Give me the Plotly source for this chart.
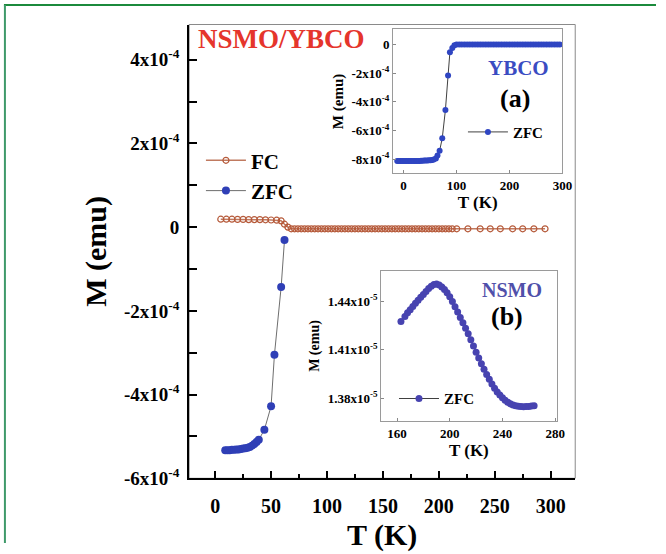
import plotly.graph_objects as go

W, H = 666, 554
SERIF = "Liberation Serif"

# ---------------- main panel: NSMO/YBCO bilayer ----------------
fc_T = [5, 10, 15, 20, 25, 30, 35, 40, 45, 50, 55, 59, 62, 65,
        68, 71, 74, 77, 80, 83, 86, 89, 92, 95, 98, 101, 104, 107, 110,
        113, 116, 119, 122, 125, 128, 131, 134, 137, 140, 143, 146, 149,
        152, 155, 158, 161, 164, 167, 170, 173, 176, 179, 182, 185, 188,
        191, 194, 197, 200, 203, 206, 209, 212,
        216, 226, 237, 246, 255, 266, 275, 285, 295]
fc_M = [0.19e-4, 0.19e-4, 0.19e-4, 0.185e-4, 0.185e-4, 0.18e-4, 0.18e-4,
        0.18e-4, 0.175e-4, 0.17e-4, 0.165e-4, 0.15e-4, 0.07e-4, 0.0,
        -0.04e-4, -0.04e-4, -0.04e-4, -0.04e-4, -0.04e-4, -0.04e-4, -0.04e-4,
        -0.04e-4, -0.04e-4, -0.04e-4, -0.04e-4, -0.04e-4, -0.04e-4, -0.04e-4,
        -0.04e-4, -0.04e-4, -0.04e-4, -0.04e-4, -0.04e-4, -0.04e-4, -0.04e-4,
        -0.04e-4, -0.04e-4, -0.04e-4, -0.04e-4, -0.04e-4, -0.04e-4, -0.04e-4,
        -0.04e-4, -0.04e-4, -0.04e-4, -0.04e-4, -0.04e-4, -0.04e-4, -0.04e-4,
        -0.04e-4, -0.04e-4, -0.04e-4, -0.04e-4, -0.04e-4, -0.04e-4, -0.04e-4,
        -0.04e-4, -0.04e-4, -0.04e-4, -0.04e-4, -0.04e-4, -0.04e-4, -0.04e-4,
        -0.04e-4, -0.04e-4, -0.04e-4, -0.04e-4, -0.04e-4, -0.04e-4, -0.04e-4,
        -0.04e-4, -0.04e-4]

zfc_T = [9, 11, 13, 15, 17, 19, 21, 23, 25, 27, 29, 31, 33, 35, 37, 39,
         44, 50, 53, 59, 62]
zfc_M = [-5.33e-4, -5.33e-4, -5.33e-4, -5.32e-4, -5.32e-4, -5.31e-4,
         -5.31e-4, -5.30e-4, -5.29e-4, -5.28e-4, -5.27e-4, -5.25e-4,
         -5.22e-4, -5.18e-4, -5.13e-4, -5.08e-4, -4.84e-4, -4.28e-4,
         -3.05e-4, -1.43e-4, -0.31e-4]

main_xticks = [0, 50, 100, 150, 200, 250, 300]
main_yticks = [4e-4, 2e-4, 0, -2e-4, -4e-4, -6e-4]
main_ylabels = ["4x10<sup>-4</sup>", "2x10<sup>-4</sup>", "0",
                "-2x10<sup>-4</sup>", "-4x10<sup>-4</sup>", "-6x10<sup>-4</sup>"]

# ---------------- inset (a): YBCO single layer ----------------
ybco_T = [-12, -9, -6, -3, 0, 3, 6, 9, 12, 15, 18, 21, 24, 27, 30, 33, 36,
          39, 42, 45, 48, 51, 54, 57, 61, 64, 68, 73, 79, 84, 87.5, 92, 96,
          100, 105, 110, 115, 120, 125, 130, 135, 140, 145, 150, 155, 160,
          165, 170, 175, 180, 185, 190, 195, 200, 205, 210, 215, 220, 225,
          230, 235, 240, 245, 250, 255, 260, 265, 270, 275, 280, 285, 290,
          295, 300]
ybco_M = [-8.12e-4, -8.12e-4, -8.12e-4, -8.12e-4, -8.12e-4, -8.12e-4,
          -8.12e-4, -8.12e-4, -8.12e-4, -8.12e-4, -8.12e-4, -8.12e-4,
          -8.12e-4, -8.12e-4, -8.12e-4, -8.11e-4, -8.11e-4, -8.10e-4,
          -8.10e-4, -8.09e-4, -8.08e-4, -8.07e-4, -8.05e-4, -8.02e-4,
          -7.95e-4, -7.75e-4, -7.42e-4, -6.54e-4, -4.57e-4, -2.16e-4,
          -0.53e-4, -0.23e-4, -0.05e-4,
          0, 0, 0, 0, 0, 0, 0, 0, 0, 0, 0, 0, 0, 0, 0, 0, 0, 0, 0, 0, 0,
          0, 0, 0, 0, 0, 0, 0, 0, 0, 0, 0, 0, 0, 0, 0, 0, 0, 0, 0]
ybco_xticks = [0, 100, 200, 300]
ybco_yticks = [0, -2e-4, -4e-4, -6e-4, -8e-4]
ybco_ylabels = ["0", "-2x10<sup>-4</sup>", "-4x10<sup>-4</sup>",
                "-6x10<sup>-4</sup>", "-8x10<sup>-4</sup>"]

# ---------------- inset (b): NSMO single layer ----------------
nsmo_T = [163, 166, 168, 170, 172, 174, 176, 178, 180, 182, 184, 186, 188,
          190, 192, 194, 196, 198, 200, 202, 204, 206, 208, 210, 212, 214,
          216, 218, 220, 222, 224, 226, 228, 230, 232, 234, 236, 238, 240,
          242, 244, 246, 248, 250, 252, 254, 256, 258, 260, 262, 264]
nsmo_M = [1.4274e-5, 1.4306e-5, 1.4328e-5, 1.4348e-5, 1.4368e-5, 1.4387e-5,
          1.4406e-5, 1.4424e-5, 1.4442e-5, 1.4460e-5, 1.4478e-5, 1.4493e-5,
          1.4504e-5, 1.4506e-5, 1.4500e-5, 1.4488e-5, 1.4472e-5, 1.4452e-5,
          1.4427e-5, 1.4398e-5, 1.4366e-5, 1.4333e-5, 1.4300e-5, 1.4267e-5,
          1.4233e-5, 1.4198e-5, 1.4161e-5, 1.4123e-5, 1.4085e-5, 1.4048e-5,
          1.4013e-5, 1.3979e-5, 1.3947e-5, 1.3917e-5, 1.3888e-5, 1.3862e-5,
          1.3839e-5, 1.3820e-5, 1.3803e-5, 1.3788e-5, 1.3775e-5, 1.3765e-5,
          1.3758e-5, 1.3753e-5, 1.3750e-5, 1.3748e-5, 1.3747e-5, 1.3748e-5,
          1.3749e-5, 1.3751e-5, 1.3753e-5]
nsmo_xticks = [160, 200, 240, 280]
nsmo_yticks = [1.38e-5, 1.41e-5, 1.44e-5]
nsmo_ylabels = ["1.38x10<sup>-5</sup>", "1.41x10<sup>-5</sup>",
                "1.44x10<sup>-5</sup>"]

# colours
FC_COL = "#b65a3a"
ZFC_COL = "#2f3fb6"
YBCO_COL = "#2f45c2"
NSMO_COL = "#4743b0"
LINE_COL = "#6e6e6e"


def px_x(px):
    return px / W


def px_y(px):
    return 1 - px / H


fig = go.Figure()

fig.add_trace(go.Scatter(
    x=fc_T, y=fc_M, name="FC", mode="lines+markers",
    line=dict(color="#c07a60", width=1.5),
    marker=dict(symbol="circle-open", size=6, color=FC_COL, line=dict(width=1.2)),
    xaxis="x", yaxis="y", legend="legend"))
fig.add_trace(go.Scatter(
    x=zfc_T, y=zfc_M, name="ZFC", mode="lines+markers",
    line=dict(color=LINE_COL, width=1),
    marker=dict(symbol="circle", size=8, color=ZFC_COL),
    xaxis="x", yaxis="y", legend="legend"))

fig.add_trace(go.Scatter(
    x=ybco_T, y=ybco_M, name="ZFC", mode="lines+markers",
    line=dict(color="#404040", width=1),
    marker=dict(symbol="circle", size=6, color=YBCO_COL),
    xaxis="x2", yaxis="y2", legend="legend2"))

fig.add_trace(go.Scatter(
    x=nsmo_T, y=nsmo_M, name="ZFC", mode="lines+markers",
    line=dict(color="#404040", width=1),
    marker=dict(symbol="circle", size=7, color=NSMO_COL),
    xaxis="x3", yaxis="y3", legend="legend3"))

bold = dict(family=SERIF, color="black", weight="bold")

fig.update_layout(
    width=W, height=H,
    margin=dict(l=0, r=0, t=0, b=0),
    paper_bgcolor="white", plot_bgcolor="rgba(0,0,0,0)",
    font=dict(family=SERIF, color="black"),
    xaxis=dict(
        domain=[px_x(192), px_x(584)], range=[-23.3, 322],
        tickvals=main_xticks, ticks="inside", ticklen=7, tickwidth=1.5,
        tickcolor="black", showline=True, linecolor="black", linewidth=2,
        showgrid=False, zeroline=False,
        minor=dict(dtick=25, ticks="inside", ticklen=4, tickcolor="black"),
        tickfont=dict(size=20, **bold), ticklabelstandoff=9,
        title=dict(text="T (K)", font=dict(size=30, **bold), standoff=8),
        anchor="y"),
    yaxis=dict(
        domain=[px_y(488), px_y(25)], range=[-6e-4, 4.84e-4],
        tickvals=main_yticks, ticktext=main_ylabels,
        ticks="inside", ticklen=8, tickwidth=1.5, tickcolor="black",
        showline=True, linecolor="black", linewidth=2,
        showgrid=False, zeroline=False,
        minor=dict(dtick=1e-4, tick0=0, ticks="inside", ticklen=8,
                   tickcolor="black"),
        tickfont=dict(size=19, **bold), ticklabelstandoff=4,
        title=dict(text="M (emu)", font=dict(size=30, **bold), standoff=8),
        anchor="x"),
    xaxis2=dict(
        domain=[px_x(399), px_x(571)], range=[-20, 300],
        tickvals=ybco_xticks, ticks="inside", ticklen=3, tickcolor="#888",
        showline=True, mirror=True, linecolor="#9a9a9a", linewidth=1,
        showgrid=False, zeroline=False,
        tickfont=dict(size=13, **bold),
        title=dict(text="T (K)", font=dict(size=17, **bold), standoff=2),
        anchor="y2"),
    yaxis2=dict(
        domain=[px_y(177), px_y(30)], range=[-9.0e-4, 1.06e-4],
        tickvals=ybco_yticks, ticktext=ybco_ylabels,
        ticks="inside", ticklen=3, tickcolor="#888",
        showline=True, mirror=True, linecolor="#9a9a9a", linewidth=1,
        showgrid=False, zeroline=False,
        tickfont=dict(size=13, **bold),
        title=dict(text="M (emu)", font=dict(size=15, **bold), standoff=4),
        anchor="x2"),
    xaxis3=dict(
        domain=[px_x(387), px_x(565)], range=[148, 281],
        tickvals=nsmo_xticks, ticks="inside", ticklen=3, tickcolor="#888",
        showline=True, mirror=True, linecolor="#9a9a9a", linewidth=1,
        showgrid=False, zeroline=False,
        tickfont=dict(size=13, **bold),
        title=dict(text="T (K)", font=dict(size=17, **bold), standoff=2),
        anchor="y3"),
    yaxis3=dict(
        domain=[px_y(430), px_y(276)], range=[1.3656e-5, 1.459e-5],
        tickvals=nsmo_yticks, ticktext=nsmo_ylabels,
        ticks="inside", ticklen=3, tickcolor="#888",
        showline=True, mirror=True, linecolor="#9a9a9a", linewidth=1,
        showgrid=False, zeroline=False,
        tickfont=dict(size=13, **bold),
        title=dict(text="M (emu)", font=dict(size=14, **bold), standoff=4),
        anchor="x3"),
    legend=dict(
        x=px_x(204), y=px_y(143), xanchor="left", yanchor="top",
        bgcolor="rgba(0,0,0,0)", font=dict(size=21, **bold),
        itemwidth=40, tracegroupgap=0),
    legend2=dict(
        x=px_x(470), y=px_y(118), xanchor="left", yanchor="top",
        bgcolor="rgba(0,0,0,0)", font=dict(size=15, **bold), itemwidth=40),
    legend3=dict(
        x=px_x(400), y=px_y(390), xanchor="left", yanchor="top",
        bgcolor="rgba(0,0,0,0)", font=dict(size=15, **bold), itemwidth=40),
    showlegend=True,
)

# thin grey frame closing the main panel on top and right
fig.add_shape(type="rect", xref="x domain", yref="y domain",
              x0=0, x1=1, y0=0, y1=1, line=dict(color="#8a8a8a", width=1),
              layer="below")

# page border
fig.add_shape(type="line", xref="paper", yref="paper",
              x0=px_x(4), x1=1, y0=px_y(5), y1=px_y(5),
              line=dict(color="#1b8a3c", width=2))
fig.add_shape(type="line", xref="paper", yref="paper",
              x0=px_x(5), x1=px_x(5), y0=0, y1=px_y(5),
              line=dict(color="#3f9a6a", width=2))

# panel labels
fig.add_annotation(text="NSMO/YBCO", xref="paper", yref="paper",
                   x=px_x(199), y=px_y(40), xanchor="left", yanchor="middle",
                   showarrow=False,
                   font=dict(family=SERIF, size=27, color="#e5352c", weight="bold"))
fig.add_annotation(text="YBCO", xref="paper", yref="paper",
                   x=px_x(526), y=px_y(69), xanchor="center", yanchor="middle",
                   showarrow=False,
                   font=dict(family=SERIF, size=21, color="#3a4cc2", weight="bold"))
fig.add_annotation(text="(a)", xref="paper", yref="paper",
                   x=px_x(523), y=px_y(101), xanchor="center", yanchor="middle",
                   showarrow=False, font=dict(size=26, **bold))
fig.add_annotation(text="NSMO", xref="paper", yref="paper",
                   x=px_x(520), y=px_y(296), xanchor="center", yanchor="middle",
                   showarrow=False,
                   font=dict(family=SERIF, size=20, color="#5050aa", weight="bold"))
fig.add_annotation(text="(b)", xref="paper", yref="paper",
                   x=px_x(515), y=px_y(323), xanchor="center", yanchor="middle",
                   showarrow=False, font=dict(size=26, **bold))

fig.write_html("out.html")
